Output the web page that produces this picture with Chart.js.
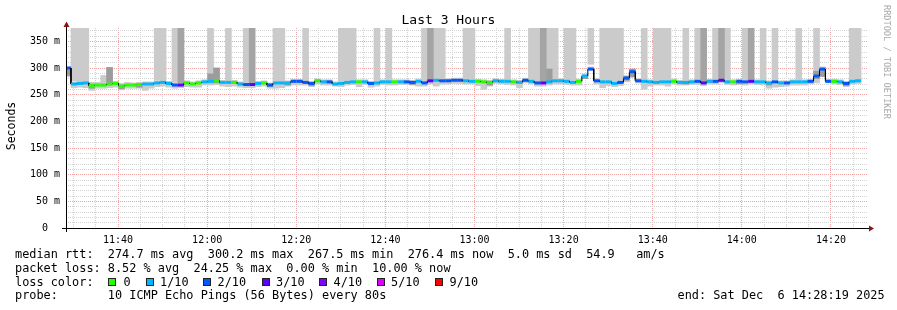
<!DOCTYPE html>
<html>
<head>
<meta charset="utf-8">
<title>Last 3 Hours</title>
<script src="https://cdn.jsdelivr.net/npm/chart.js"></script>
<style>
  body { margin: 0; background: #fff; }
  #graph { position: relative; width: 897px; height: 310px; font-family: "DejaVu Sans Mono", monospace; color: #000; }
  #graph canvas { position: absolute; left: 0; top: 0; }
  .txt { position: absolute; white-space: pre; line-height: normal; }
  .legend { font-size: 11.86px; }
  .box { position: absolute; width: 6px; height: 6px; border: 1px solid #222; }
</style>
</head>
<body>
<div id="graph">
  <canvas id="chart" width="897" height="310"></canvas>
  <div class="txt" style="left:0; width:897px; top:12px; text-align:center; font-size:13px;">Last 3 Hours</div>
  <div class="txt" style="left:-29px; top:119px; width:80px; height:14px; line-height:14px; text-align:center; font-size:11.5px; transform:rotate(-90deg);">Seconds</div>
  <div class="txt" style="left:882px; top:5px; font-size:8.6px; line-height:10px; color:#aaaaaa; writing-mode:vertical-rl;">RRDTOOL / TOBI OETIKER</div>
  <div class="txt legend" style="left:15px; top:247px;">median rtt:  274.7 ms avg  300.2 ms max  267.5 ms min  276.4 ms now  5.0 ms sd  54.9   am/s</div>
  <div class="txt legend" style="left:15px; top:261px;">packet loss: 8.52 % avg  24.25 % max  0.00 % min  10.00 % now</div>
  <div class="txt legend" id="lossRow" style="left:15px; top:275px;">loss color:</div>
  <div class="txt legend" style="left:15px; top:288px;">probe:       10 ICMP Echo Pings (56 Bytes) every 80s</div>
  <div class="txt legend" style="left:677.5px; top:288px;">end: Sat Dec  6 14:28:19 2025</div>
</div>
<script>
// time in minutes after midnight, one sample per 80 s probe round
const START = 688.1;
const STEP = 80 / 60;
const X_MIN = 688 + 19 / 60;   // 11:28:19
const X_MAX = 868 + 19 / 60;   // 14:28:19
const Y_MAX = 375;

const xTickLabels = ['11:40', '12:00', '12:20', '12:40', '13:00', '13:20', '13:40', '14:00', '14:20'];
const yTickLabels = [0, 50, 100, 150, 200, 250, 300, 350];

// median rtt (ms) per round
const median = [
  300,270,271,272,267,268,268,270,271,266,268,268,269,270,270,272,273,271,268,268,
  272,270,272,274,275,276,273,273,273,270,269,269,271,272,268,272,272,272,275,275,
  273,271,276,274,274,270,271,273,274,274,274,271,272,274,274,274,274,274,273,275,
  272,276,277,276,276,277,277,276,275,275,274,273,276,275,275,274,273,277,275,272,
  272,274,276,276,275,273,275,285,298,276,274,274,271,273,281,293,276,275,274,273,
  274,274,275,273,273,274,275,272,275,275,277,274,274,275,274,275,274,274,272,274,
  272,272,274,274,274,275,285,298,275,275,274,271,275,276
];

// lost pings out of 10 per round
const loss = [
  2,1,1,1,0,0,0,0,0,0,0,0,0,1,1,1,1,1,2,3,
  0,0,0,1,1,0,1,1,0,1,2,3,1,0,2,1,1,1,2,2,
  2,2,0,1,2,1,1,1,1,0,1,2,1,1,1,0,1,2,2,1,
  2,3,1,2,2,2,2,1,1,0,0,0,1,1,1,0,1,2,1,2,
  3,1,1,1,1,1,0,1,2,2,1,1,1,2,2,2,2,1,1,1,
  1,1,0,1,1,1,2,3,1,2,3,1,0,2,2,3,1,1,1,2,
  1,2,1,1,1,2,2,2,2,0,1,2,1,1
];

// smoke around the median: fastest / slowest ping in range
const pingMin = [
  284,263,264,263,258,262,262,263,264,259,262,262,262,258,262,265,266,264,262,263,
  265,264,264,268,268,269,266,265,266,264,263,263,265,266,262,262,263,266,268,268,
  268,265,270,268,268,266,265,268,269,265,269,264,266,269,268,268,269,269,268,266,
  266,270,266,270,270,271,271,270,270,267,260,266,271,270,269,268,263,272,270,266,
  266,268,270,270,269,268,268,282,296,270,263,267,265,267,274,285,272,260,266,268,
  268,266,270,268,268,269,269,267,270,270,272,269,268,270,268,270,269,268,262,264,
  265,266,268,268,268,270,272,284,272,270,269,265,270,271
];
const pingMax = [
  302,274,276,276,273,273,286,301,275,271,273,272,273,274,274,276,277,275,272,272,
  276,274,276,278,279,300,277,277,277,274,273,273,275,276,272,276,276,276,279,279,
  277,275,280,278,278,274,275,277,278,278,278,275,276,278,278,278,278,278,277,279,
  276,280,281,280,280,281,281,280,279,279,278,277,280,279,279,278,277,281,279,276,
  276,278,280,280,279,277,279,289,302,280,278,278,275,277,285,298,280,279,278,277,
  278,278,279,277,277,278,279,276,279,279,281,278,278,279,278,279,278,278,276,278,
  276,276,278,278,278,279,296,302,279,279,278,275,279,280
];

// denser smoke patches: [round, low, high]
const darkBands = [
  [0,286,300],[4,262,270],[7,268,301],[9,261,268],[12,264,268],[24,272,289],[25,272,300],
  [34,265,270],[37,268,272],[41,267,272],[58,269,273],[71,268,273],[81,272,298],[87,280,285],
  [94,277,285],[95,283,298],[104,270,275],[113,270,275],[118,268,273],[126,280,294],
  [127,284,296],[131,267,272]
];

// pings beyond the top of the graph: [round, lowest clipped ping]
const lightSpikes = [
  [1,276],[2,276],[3,276],[15,277],[16,277],[18,273],[24,289],[27,277],[30,274],[35,276],
  [36,276],[40,277],[46,275],[47,276],[48,277],[52,276],[54,277],[60,276],[62,280],[63,279],
  [67,279],[68,278],[74,278],[78,278],[79,276],[81,280],[82,279],[84,278],[85,277],[88,307],
  [90,277],[91,277],[92,276],[93,276],[97,278],[99,277],[100,277],[101,277],[104,276],[106,278],
  [109,278],[111,277],[114,277],[117,277],[119,277],[123,277],[126,294],[132,278],[133,279]
];
const darkSpikes = [[19,272],[31,272],[61,279],[80,275],[107,275],[110,280],[115,278]];

const lossLabels = ['0', '1/10', '2/10', '3/10', '4/10', '5/10', '9/10'];
const lossColors = ['#26ff00', '#00b8ff', '#0059ff', '#5e00ff', '#7e00ff', '#dd00ff', '#ff0000'];

// legend layout
const boxX = [108, 145.5, 203, 261.5, 319, 376.5, 434.5];
const labelX = [123.5, 160, 217.5, 276, 333.5, 391, 449.5];

const FONT = 'DejaVu Sans Mono';
const LIGHT = '#cbcbcb';
const DARK = '#a4a4a4';
const GRID_MINOR = '#d2d2d2';
const GRID_MAJOR = '#f0a4a4';

const graph = document.getElementById('graph');
lossLabels.forEach((lab, i) => {
  const b = document.createElement('div');
  b.className = 'box';
  b.style.left = boxX[i] + 'px';
  b.style.top = '278px';
  b.style.background = lossColors[i];
  graph.appendChild(b);
  const t = document.createElement('div');
  t.className = 'txt legend';
  t.style.left = labelX[i] + 'px';
  t.style.top = '275px';
  t.textContent = lab;
  graph.appendChild(t);
});

const colorForLoss = n => n <= 5 ? lossColors[n] : lossColors[6];
const toMin = s => { const [h, m] = s.split(':').map(Number); return h * 60 + m; };
const mid = i => START + (i + 0.5) * STEP;

const smoke = median.map((m, i) => ({ x: mid(i), y: [pingMin[i], pingMax[i]] }));
const dense = darkBands.map(([i, lo, hi]) => ({ x: mid(i), y: [lo, hi] }));
const spikesL = lightSpikes.map(([i, lo]) => ({ x: mid(i), y: [lo, Y_MAX] }));
const spikesD = darkSpikes.map(([i, lo]) => ({ x: mid(i), y: [lo, Y_MAX] }));

// each round becomes a flat piece, joined by a thin black riser
const medianPts = [];
median.forEach((m, i) => {
  medianPts.push({ x: START + i * STEP, y: m }, { x: START + (i + 1) * STEP, y: m });
});

const barStyle = { type: 'bar', barPercentage: 1, categoryPercentage: 1, grouped: false, borderWidth: 0 };

const axisLines = {
  id: 'axisLines',
  afterDatasetsDraw(chart) {
    const { ctx, chartArea: a } = chart;
    ctx.save();
    ctx.strokeStyle = '#000';
    ctx.lineWidth = 1;
    ctx.beginPath();
    ctx.moveTo(a.left - 4, a.bottom + 0.5);
    ctx.lineTo(a.right + 2, a.bottom + 0.5);
    ctx.moveTo(a.left + 0.5, a.bottom + 4);
    ctx.lineTo(a.left + 0.5, a.top - 3);
    ctx.stroke();
    ctx.fillStyle = '#8b1414';
    ctx.beginPath();
    ctx.moveTo(a.right + 1, a.bottom - 2.5);
    ctx.lineTo(a.right + 6, a.bottom + 0.5);
    ctx.lineTo(a.right + 1, a.bottom + 3.5);
    ctx.fill();
    ctx.beginPath();
    ctx.moveTo(a.left - 2.5, a.top - 1);
    ctx.lineTo(a.left + 0.5, a.top - 6.5);
    ctx.lineTo(a.left + 3.5, a.top - 1);
    ctx.fill();
    ctx.restore();
  }
};

new Chart(document.getElementById('chart'), {
  type: 'bar',
  data: {
    datasets: [
      {
        type: 'line',
        data: medianPts,
        order: 0,
        pointRadius: 0,
        tension: 0,
        borderCapStyle: 'butt',
        borderColor: '#000',
        borderWidth: 3,
        segment: {
          borderColor: c => c.p0DataIndex % 2 === 0 ? colorForLoss(loss[c.p0DataIndex >> 1]) : '#000',
          borderWidth: c => c.p0DataIndex % 2 === 0 ? 3 : 1
        }
      },
      { ...barStyle, data: spikesD, backgroundColor: DARK, order: 2 },
      { ...barStyle, data: dense, backgroundColor: '#9c9c9c', order: 3 },
      { ...barStyle, data: spikesL, backgroundColor: LIGHT, order: 4 },
      { ...barStyle, data: smoke, backgroundColor: LIGHT, order: 5 }
    ]
  },
  options: {
    responsive: false,
    animation: false,
    layout: { padding: { left: 0, right: 29, top: 28, bottom: 62 } },
    plugins: {
      legend: { display: false },
      tooltip: { enabled: false },
      title: { display: false }
    },
    scales: {
      x: {
        type: 'linear',
        min: X_MIN,
        max: X_MAX,
        offset: false,
        afterFit: s => { s.height = 20; },
        afterBuildTicks: s => {
          const ticks = [];
          for (let t = Math.ceil(X_MIN / 5) * 5; t < X_MAX; t += 5) ticks.push({ value: t });
          s.ticks = ticks;
        },
        grid: {
          offset: false,
          drawTicks: false,
          lineWidth: 1,
          color: c => (c.tick && Math.round(c.tick.value) % 20 === 0) ? GRID_MAJOR : GRID_MINOR
        },
        border: { display: false, dash: [1, 1] },
        ticks: {
          autoSkip: false,
          maxRotation: 0,
          padding: 6,
          color: '#000',
          font: { family: FONT, size: 10 },
          callback: v => {
            const lab = xTickLabels.find(s => toMin(s) === Math.round(v));
            return lab || '';
          }
        }
      },
      y: {
        min: 0,
        max: Y_MAX,
        afterFit: s => { s.width = 66; },
        grid: {
          drawTicks: false,
          lineWidth: 1,
          color: c => (c.tick && yTickLabels.includes(Math.round(c.tick.value))) ? GRID_MAJOR : GRID_MINOR
        },
        border: { display: false, dash: [1, 1] },
        ticks: {
          stepSize: 10,
          includeBounds: false,
          autoSkip: false,
          padding: 6,
          color: '#000',
          font: { family: FONT, size: 10 },
          callback: v => {
            const r = Math.round(v);
            if (!yTickLabels.includes(r)) return '';
            return r === 0 ? '0  ' : r + ' m';
          }
        }
      }
    }
  },
  plugins: [axisLines]
});
</script>
</body>
</html>
